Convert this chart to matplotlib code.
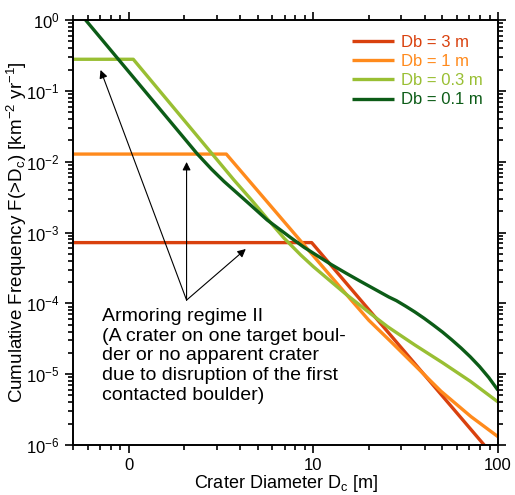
import matplotlib
matplotlib.use("Agg")
import matplotlib.pyplot as plt
from matplotlib.ticker import FixedLocator, FixedFormatter, NullFormatter

plt.rcParams["font.family"] = ["Liberation Sans", "DejaVu Sans"]
plt.rcParams["mathtext.fontset"] = "custom"
plt.rcParams["mathtext.rm"] = "Liberation Sans"
plt.rcParams["mathtext.it"] = "Liberation Sans"

# cumulative crater frequency curves for each boulder size
d_3m = [0.5, 9.8, 100]
f_3m = [7.2e-4, 7.2e-4, 5.9e-7]

d_1m = [0.5, 3.38, 15.97, 20, 26.3, 35, 49.1, 71.5, 100]
f_1m = [1.28e-2, 1.28e-2, 1.127e-4, 5.75e-5, 2.88e-5, 1.38e-5, 5.75e-6, 2.51e-6, 1.31e-6]

d_03m = [0.5, 1.06, 3.72, 4.59, 5.65, 6.95, 8.56, 10.0, 14.7, 20.5, 25.25,
         35.48, 50.12, 70.79, 100]
f_03m = [0.279, 0.279, 5.5e-3, 2.95e-3, 1.55e-3, 8.3e-4, 4.8e-4, 3.3e-4, 1.41e-4,
         7.1e-5, 4.68e-5, 2.58e-5, 1.45e-5, 7.94e-6, 4.05e-6]

d_01m = [0.55, 0.585, 2.357, 2.818, 3.285, 4.585, 5.623, 7.551, 8.913, 12.44, 15.14,
         18.09, 21.38, 25.66, 28.18, 31.62, 35.48, 39.81, 44.67, 50.12, 56.23,
         63.10, 70.79, 79.43, 89.13, 100]
f_01m = [1.21, 1.0, 1.282e-2, 7.78e-3, 5.26e-3, 2.43e-3, 1.503e-3, 8.45e-4, 6.18e-4,
         3.56e-4, 2.64e-4, 2.03e-4, 1.596e-4, 1.227e-4, 1.091e-4, 9.12e-5, 7.55e-5,
         6.15e-5, 4.93e-5, 3.92e-5, 3.05e-5, 2.34e-5, 1.758e-5, 1.282e-5, 8.97e-6, 5.93e-6]

labels = ["Db = 3 m", "Db = 1 m", "Db = 0.3 m", "Db = 0.1 m"]
colors = ["#d9410e", "#ff8a1c", "#99bf33", "#0c5c17"]

x_ticks = [1, 10, 100]
x_ticklabels = ["0", "10", "100"]
y_exps = [0, -1, -2, -3, -4, -5, -6]

# arrow tips pointing at the flat parts, and the shared tail
arrow_tips = [(0.705, 0.197), (2.06, 9.9e-3), (4.31, 5.85e-4)]
arrow_tail = (2.06, 1.11e-4)

fig = plt.figure(figsize=(5.15, 4.95), dpi=100)
ax = fig.add_axes([73/515, 1-445/495, 425/515, 425/495])

series = [(d_3m, f_3m), (d_1m, f_1m), (d_03m, f_03m), (d_01m, f_01m)]
for (d, f), lab, c in zip(series, labels, colors):
    ax.plot(d, f, color=c, lw=2.4, label=lab, solid_capstyle="butt",
            solid_joinstyle="round")

ax.set_xscale("log")
ax.set_yscale("log")
ax.set_xlim(0.5, 100)
ax.set_ylim(1e-6, 1)

minor_x = [m * 10.0**e for e in (-1, 0, 1) for m in range(2, 10)]
minor_y = [m * 10.0**e for e in range(-6, 0) for m in range(2, 10)]

ax.xaxis.set_major_locator(FixedLocator(x_ticks))
ax.xaxis.set_major_formatter(FixedFormatter(x_ticklabels))
ax.xaxis.set_minor_locator(FixedLocator([v for v in minor_x if 0.5 <= v <= 100]))
ax.xaxis.set_minor_formatter(NullFormatter())

ax.yaxis.set_major_locator(FixedLocator([10.0**e for e in y_exps]))
ax.yaxis.set_major_formatter(FixedFormatter([r"$\mathregular{10^{%d}}$" % e for e in y_exps]))
ax.yaxis.set_minor_locator(FixedLocator(minor_y))
ax.yaxis.set_minor_formatter(NullFormatter())

ax.tick_params(which="both", direction="out", top=True, right=True, width=1.2, labelsize=12)
ax.tick_params(which="major", length=6)
ax.tick_params(which="minor", length=3.5)
for s in ax.spines.values():
    s.set_linewidth(1.4)

ax.set_xlabel(r"Crater Diameter D$_\mathregular{c}$ [m]", fontsize=13, labelpad=0)
ax.set_ylabel(r"Cumulative Frequency F(>D$_\mathregular{c}$) [km$^\mathregular{-2}$ yr$^\mathregular{-1}$]",
              fontsize=13.5, labelpad=-2)

leg = ax.legend(loc="upper right", frameon=False, fontsize=12, handlelength=2.5,
                handletextpad=0.45, labelspacing=0.25, borderaxespad=0.5)
for t, c in zip(leg.get_texts(), colors):
    t.set_color(c)

for tip in arrow_tips:
    ax.annotate("", xy=tip, xytext=arrow_tail,
                arrowprops=dict(arrowstyle="-|>", color="black", lw=0.8,
                                mutation_scale=12, shrinkA=0, shrinkB=0))

ax.text(0.068, 0.322,
        "Armoring regime II\n(A crater on one target boul-\nder or no apparent crater\n"
        "due to disruption of the first\ncontacted boulder)",
        transform=ax.transAxes, ha="left", va="top", fontsize=14, linespacing=1.2)

fig.savefig("out.png", dpi=100)
